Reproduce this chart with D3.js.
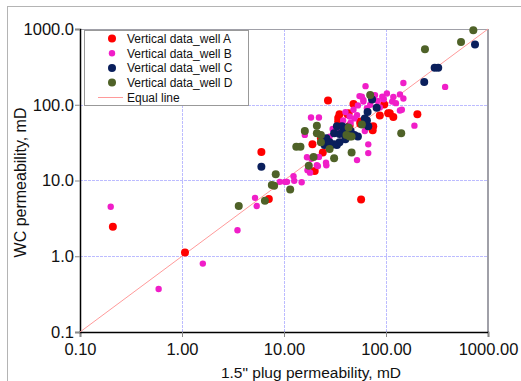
<!DOCTYPE html>
<html>
<head>
<meta charset="utf-8">
<script src="https://cdn.jsdelivr.net/npm/d3@7"></script>
<style>
  body { margin: 0; background: #fff; }
  svg { display: block; font-family: "Liberation Sans", Arial, sans-serif; }
</style>
</head>
<body>
<div id="chart"></div>
<script>
'use strict';

// permeability pairs [plug, WC]
var wellA = [
    [0.21, 2.45], [1.07, 1.12], [6.0, 23.7], [7.1, 5.7], [27, 114], [48, 102],
    [96, 101], [203, 75], [109, 77], [118, 69], [57, 5.6], [74, 46], [19, 30],
    [20, 13.3], [24, 23.5], [43, 77], [56, 56], [34, 60], [34, 67], [44, 53],
    [56, 60], [75, 52], [87, 72], [105, 77], [35, 75], [42, 75], [23, 36]
];
var wellB = [
    [0.2, 4.5], [0.59, 0.37], [1.6, 0.8], [3.5, 2.2], [5.2, 5.9], [5.4, 4.6],
    [9.1, 9.6], [10.2, 9.6], [10.7, 9.6], [12.4, 11.4], [12.6, 9.9], [14.9, 9.5],
    [16, 40], [16.8, 20.3], [17, 13.7], [18.4, 68], [22, 68], [18.6, 19.4],
    [21.5, 15.5], [25.8, 17.2], [18, 12.7], [52, 18.6], [67, 30], [67, 23],
    [190, 53], [63, 176], [55, 130], [60, 116], [78, 134], [102, 141], [118, 127],
    [148, 121], [137, 137], [148, 194], [380, 172], [137, 84], [143, 86], [87, 92],
    [58, 128], [60, 110], [53, 98], [48, 86], [38, 62], [44, 70], [52, 73],
    [40, 80], [49, 66], [22, 20.5], [21, 15.9], [26, 15.9], [30, 48], [35, 44],
    [45, 58], [50, 40], [62, 45], [115, 110], [125, 105], [95, 118], [70, 100],
    [65, 90], [28, 38], [83, 112], [92, 128], [72, 122]
];
var wellC = [
    [6.0, 15.2], [66, 80], [73, 117], [81, 91], [65, 62], [62, 56], [67, 52],
    [33, 52], [37, 52], [41, 50], [31, 42], [35, 41], [49, 40], [53, 38],
    [26, 36], [27, 31], [29, 29.5], [33, 29.5], [35, 32], [31, 30], [25, 29.5],
    [28, 32], [38, 42], [64, 60], [62, 66], [40, 48], [45, 45], [40, 35],
    [237, 200], [300, 307], [325, 307], [746, 624]
];
var wellD = [
    [3.6, 4.6], [6.5, 5.4], [8.3, 12.1], [7.6, 8.7], [8.0, 8.5], [11.5, 7.6],
    [16, 45], [13.2, 28], [14.5, 28], [17.5, 15.7], [21, 53], [23, 40], [23, 32],
    [28, 26], [31, 19.6], [46, 23.5], [141, 42], [241, 542], [544, 676],
    [718, 964], [70, 135], [58, 55], [43, 50], [41, 40], [46, 38], [21, 42],
    [19.5, 20.5], [44, 38]
];

var seriesNames  = ['Vertical data_well A', 'Vertical data_well B', 'Vertical data_well C', 'Vertical data_well D'];
var seriesColors = ['#ff0000', '#f01ec8', '#0a1f5c', '#4f6228'];
var seriesRadius = [4, 3.2, 4, 4];
var seriesData   = [wellA, wellB, wellC, wellD];

var xTicks = [0.1, 1, 10, 100, 1000];
var yTicks = [0.1, 1, 10, 100, 1000];
var equalLine = [[0.1, 0.1], [1000, 1000]];

var width      = 521,
    height     = 381,
    plotLeft   = 80,
    plotRight  = 488,
    plotTop    = 29,
    plotBottom = 332;

var svg = d3.select('#chart')
    .append('svg')
    .attr('width', width)
    .attr('height', height);

// chart area frame
svg.append('rect')
    .attr('x', 7.5).attr('y', 6.5)
    .attr('width', 600).attr('height', 500)
    .attr('fill', '#fff')
    .attr('stroke', '#b4b4b4');

var x = d3.scaleLog().domain([0.1, 1000]).range([plotLeft, plotRight]);
var y = d3.scaleLog().domain([0.1, 1000]).range([plotBottom, plotTop]);

// grid
svg.append('g').selectAll('line')
    .data(xTicks.slice(1, -1))
    .enter().append('line')
    .attr('x1', function (d) { return Math.round(x(d)) + 0.5; })
    .attr('x2', function (d) { return Math.round(x(d)) + 0.5; })
    .attr('y1', plotTop).attr('y2', plotBottom)
    .attr('stroke', '#bcbcff').attr('stroke-dasharray', '3,1');
svg.append('g').selectAll('line')
    .data(yTicks.slice(1, -1))
    .enter().append('line')
    .attr('y1', function (d) { return Math.round(y(d)) + 0.5; })
    .attr('y2', function (d) { return Math.round(y(d)) + 0.5; })
    .attr('x1', plotLeft).attr('x2', plotRight)
    .attr('stroke', '#bcbcff').attr('stroke-dasharray', '3,1');

// plot frame top / right
svg.append('line')
    .attr('x1', plotLeft).attr('x2', plotRight).attr('y1', plotTop + 0.5).attr('y2', plotTop + 0.5)
    .attr('stroke', '#a0a0a8');
svg.append('line')
    .attr('x1', plotRight).attr('x2', plotRight).attr('y1', plotTop).attr('y2', plotBottom)
    .attr('stroke', '#a0a0a8').attr('stroke-width', 2);

// axes
var xAxis = d3.axisBottom(x).tickValues(xTicks).tickSize(5).tickPadding(6)
    .tickFormat(d3.format('.2f'));
var yAxis = d3.axisLeft(y).tickValues(yTicks).tickSize(5).tickPadding(1)
    .tickFormat(d3.format('.1f'));

var gx = svg.append('g').attr('transform', 'translate(0,' + plotBottom + ')').call(xAxis);
var gy = svg.append('g').attr('transform', 'translate(' + plotLeft + ',0)').call(yAxis);
[gx, gy].forEach(function (g) {
    g.select('.domain').attr('stroke', '#000').attr('stroke-width', 1.5);
    g.selectAll('.tick line').attr('stroke', '#888');
    g.selectAll('.tick text')
        .attr('fill', '#111')
        .style('font-size', '16.5px')
        .style('font-family', '"Liberation Sans", Arial, sans-serif');
});

// equal line
svg.append('path')
    .datum(equalLine)
    .attr('d', d3.line().x(function (d) { return x(d[0]); }).y(function (d) { return y(d[1]); }))
    .attr('stroke', '#ff9a9a').attr('fill', 'none').attr('stroke-width', 1);

// points
seriesData.forEach(function (data, k) {
    svg.append('g').selectAll('circle')
        .data(data)
        .enter().append('circle')
        .attr('cx', function (d) { return x(d[0]); })
        .attr('cy', function (d) { return y(d[1]); })
        .attr('r', seriesRadius[k])
        .attr('fill', seriesColors[k]);
});

// axis titles
svg.append('text')
    .attr('x', (plotLeft + plotRight) / 2 + 27).attr('y', 378)
    .attr('text-anchor', 'middle')
    .style('font-size', '15.5px').attr('fill', '#111')
    .text('1.5" plug permeability, mD');
svg.append('text')
    .attr('transform', 'translate(26,' + ((plotTop + plotBottom) / 2 + 2) + ') rotate(-90)')
    .attr('text-anchor', 'middle')
    .style('font-size', '16px').attr('fill', '#111')
    .text('WC permeability, mD');

// legend
var legend = svg.append('g').attr('transform', 'translate(84,30)');
legend.append('rect')
    .attr('x', 0.5).attr('y', 0.5).attr('width', 164).attr('height', 75)
    .attr('fill', '#fff').attr('stroke', '#999');
var rows = legend.selectAll('g.row')
    .data(seriesNames)
    .enter().append('g')
    .attr('class', 'row')
    .attr('transform', function (d, i) { return 'translate(0,' + (8.5 + i * 14.7) + ')'; });
rows.append('circle')
    .attr('cx', 28).attr('cy', 0)
    .attr('r', function (d, i) { return seriesRadius[i]; })
    .attr('fill', function (d, i) { return seriesColors[i]; });
rows.append('text')
    .attr('x', 43).attr('y', 4.5)
    .style('font-size', '12px').attr('fill', '#111')
    .text(function (d) { return d; });
legend.append('line')
    .attr('x1', 14).attr('x2', 39).attr('y1', 67.5).attr('y2', 67.5)
    .attr('stroke', '#ff9a9a');
legend.append('text')
    .attr('x', 43).attr('y', 72)
    .style('font-size', '12px').attr('fill', '#111')
    .text('Equal line');
</script>
</body>
</html>
